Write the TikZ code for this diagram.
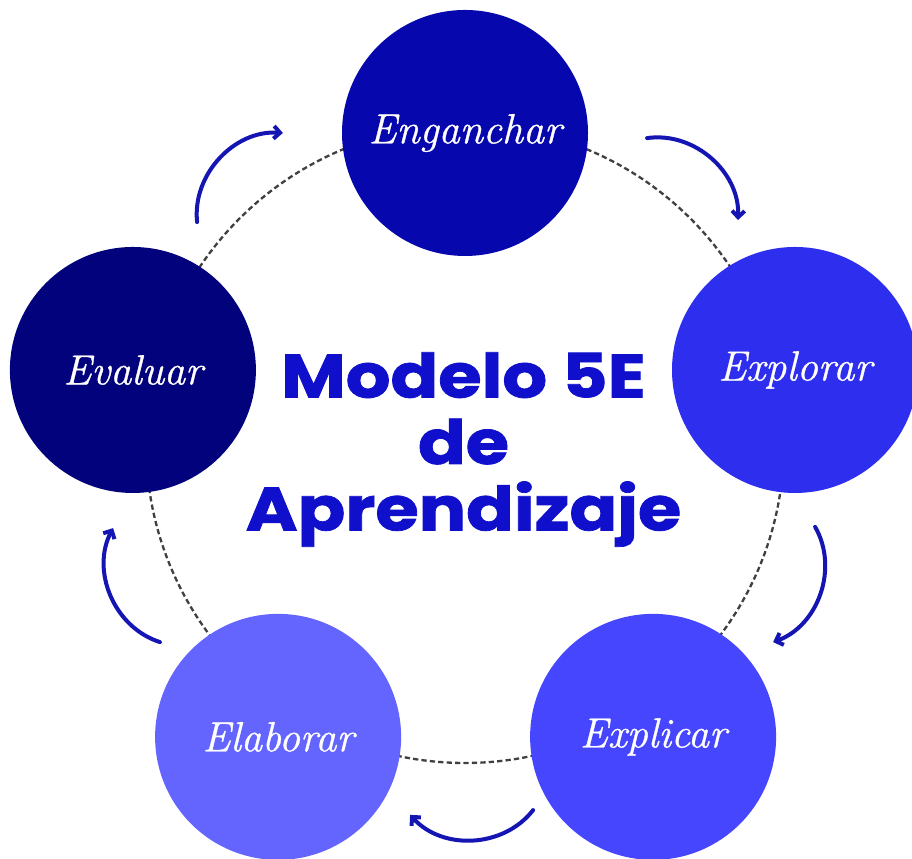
\documentclass[tikz,border=0pt]{standalone}
\usepackage{fontspec}
\usepackage{tikz}
\usepackage{tikz-network}
\usetikzlibrary{arrows.meta}
\setmainfont{Latin Modern Roman}[ItalicFeatures={FakeBold=0.8}]
\newfontfamily\titulofont{Poppins}[BoldFeatures={FakeBold=1.2}]
\definecolor{enganchar}{HTML}{0707AE}
\definecolor{explorar}{HTML}{2E2EEE}
\definecolor{explicar}{HTML}{4646FF}
\definecolor{elaborar}{HTML}{6464FF}
\definecolor{evaluar}{HTML}{02027C}
\definecolor{titulo}{HTML}{1010CC}
\definecolor{azulflecha}{HTML}{1515B4}
\tikzset{
  flecha/.style={draw=azulflecha, line width=3.8pt, line cap=round, -{Straight Barb[length=6pt,width=12pt]}},
  guia/.style={draw=black!75, line width=2.2pt, dash pattern=on 5pt off 3pt}
}

\begin{document}
\begin{tikzpicture}
\useasboundingbox (0,0) rectangle (30.4,28.633);
\SetVertexStyle[LineWidth=0pt,LineOpacity=0,TextColor=white]
\draw[guia] (15.5,13.83) circle (10.63);

\Vertex[x=15.5,y=24.2,size=8.2,label=Enganchar,color=enganchar,fontcolor=white,fontsize=\fontsize{40}{40}\selectfont\itshape]{E1}
\Vertex[x=26.5,y=16.3,size=8.2,label=Explorar,color=explorar,fontcolor=white,fontsize=\fontsize{40}{40}\selectfont\itshape]{E2}
\Vertex[x=21.77,y=4.07,size=8.2,label=Explicar,color=explicar,fontcolor=white,fontsize=\fontsize{40}{40}\selectfont\itshape]{E3}
\Vertex[x=9.27,y=4.07,size=8.2,label=Elaborar,color=elaborar,fontcolor=white,fontsize=\fontsize{40}{40}\selectfont\itshape]{E4}
\Vertex[x=4.43,y=16.3,size=8.2,label=Evaluar,color=evaluar,fontcolor=white,fontsize=\fontsize{40}{40}\selectfont\itshape]{E5}

\node[text=titulo, align=center, xscale=1.15, font=\titulofont\bfseries\fontsize{58}{63}\selectfont] (T) at (15.45,13.65) {Modelo 5E\\de\\Aprendizaje};

\coordinate (a1) at (6.57,21.23);  \coordinate (b1) at (9.43,24.2);
\coordinate (a2) at (21.57,24.03); \coordinate (b2) at (24.6,21.3);
\coordinate (a3) at (27.17,11.07); \coordinate (b3) at (25.77,7.23);
\coordinate (a4) at (17.77,1.63);  \coordinate (b4) at (13.67,1.47);
\coordinate (a5) at (5.33,7.23);   \coordinate (b5) at (3.77,11.03);

\draw[flecha] (a1) to[bend left=50] (b1);
\draw[flecha] (a2) to[bend left=50] (b2);
\draw[flecha] (a3) to[bend left=50] (b3);
\draw[flecha] (a4) to[bend left=50] (b4);
\draw[flecha] (a5) to[bend left=50] (b5);
\end{tikzpicture}
\end{document}
